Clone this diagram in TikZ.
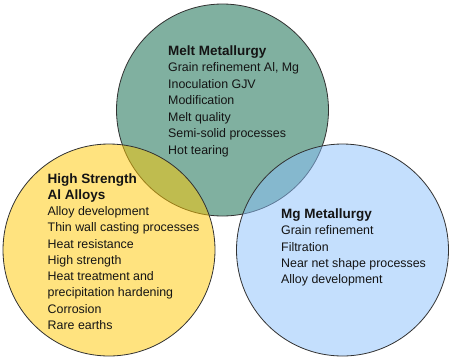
\documentclass[tikz,border=0pt]{standalone}
\usepackage{fontspec}
\setmainfont{Liberation Sans}
\definecolor{cgreen}{RGB}{2,98,66}
\definecolor{cyellow}{RGB}{255,200,0}
\definecolor{cblue}{RGB}{139,193,253}
\definecolor{cline}{RGB}{50,50,50}
\definecolor{ctext}{RGB}{20,20,20}
\tikzset{
  venn/.style={draw=cline, line width=0.8pt, fill opacity=0.5},
  txt/.style={inner sep=0pt, anchor=base west, text=ctext, font=\fontsize{12.4}{15}\selectfont},
  ttl/.style={txt, font=\fontsize{13.5}{16}\selectfont\bfseries},
}
\begin{document}
\begin{tikzpicture}[x=1pt,y=-1pt]
\useasboundingbox (0,0) rectangle (450,357);
\fill[white] (0,0) rectangle (450,357);
\path[venn, fill=cgreen] (222.5,110) circle [radius=106pt];
\path[venn, fill=cyellow] (109,250) circle [radius=106pt];
\path[venn, fill=cblue] (342.5,250) circle [radius=106pt];
% Melt Metallurgy
\node[ttl] (m0) at (168,55) {Melt Metallurgy};
\foreach [count=\i] \t in {{Grain refinement Al, Mg},Inoculation GJV,Modification,Melt quality,Semi-solid processes,Hot tearing}
  \node[txt] (m\i) at (168,{55+16.55*\i}) {\t};
% High Strength Al Alloys
\node[ttl] (h0) at (47.5,183.3) {High Strength};
\node[ttl] (h1) at (47.5,199.5) {Al Alloys};
\foreach [count=\i] \t in {Alloy development,Thin wall casting processes,Heat resistance,High strength,Heat treatment and,precipitation hardening,Corrosion,Rare earths}
  \node[txt] (h\i x) at (47.5,{199.5+16.22*\i}) {\t};
% Mg Metallurgy
\node[ttl] (g0) at (281,218.3) {Mg Metallurgy};
\foreach [count=\i] \t in {Grain refinement,Filtration,Near net shape processes,Alloy development}
  \node[txt] (g\i) at (281,{218.3+16.4*\i}) {\t};
\end{tikzpicture}
\end{document}
